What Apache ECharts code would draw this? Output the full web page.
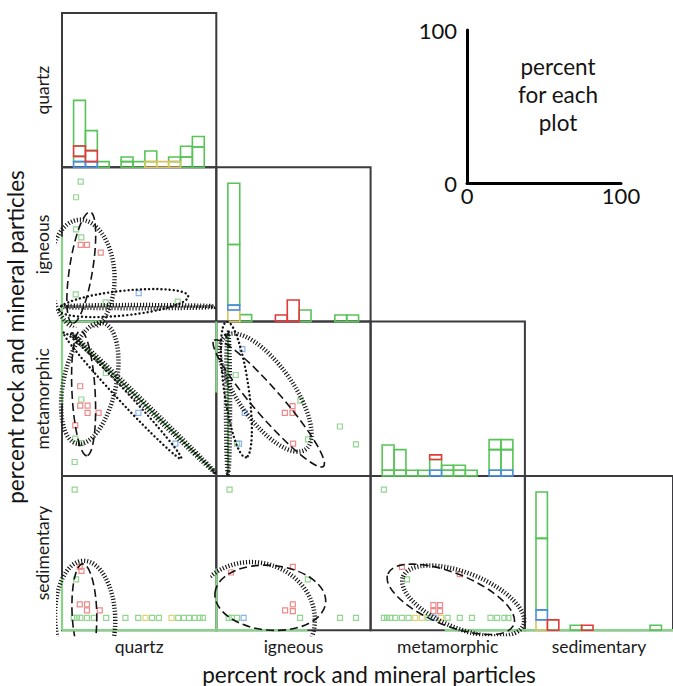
<!DOCTYPE html>
<html><head><meta charset="utf-8">
<script src="https://cdn.jsdelivr.net/npm/echarts@6/dist/echarts.min.js"></script>
<style>html,body{margin:0;padding:0;background:#fff}#c{width:673px;height:686px}</style>
</head><body><div id="c"></div>
<script>
// ---------- data ----------
const variables = ['quartz', 'igneous', 'metamorphic', 'sedimentary'];
const axisTitle = 'percent rock and mineral particles';
const insetTicks = [0, 100];
const insetText = 'percent\nfor each\nplot';

// histogram bins (percent) and stacked bin heights (percent of panel height)
const binEdges = [7.5, 15.2, 22.9, 30.6, 38.3, 46.0, 53.7, 61.4, 69.1, 76.8, 84.5, 92.2];
const quartzHistYellow = [0, 0, 0, 0, 0, 0, 3.7, 3.7, 3.7, 0, 0];
const quartzHistBlue   = [3.7, 3.7, 0, 0, 0, 0, 0, 0, 0, 0, 0];
const quartzHistGreenA = [3.4, 0, 3.7, 0, 3.7, 3.7, 6.9, 0, 3.0, 6.7, 13.2];
const quartzHistRed    = [6.7, 7.1, 0, 0, 0, 0, 0, 0, 0, 0, 0];
const quartzHistGreenB = [29.6, 13.0, 0, 0, 3.0, 0, 0, 0, 0, 6.9, 6.8];

const igneousHistYellow = [7.5, 0, 0, 0, 0, 0, 0, 0, 0, 0, 0];
const igneousHistBlue   = [3.2, 0, 0, 0, 0, 0, 0, 0, 0, 0, 0];
const igneousHistGreenA = [39.3, 4.5, 0, 0, 0, 0, 7.5, 0, 0, 4.3, 4.3];
const igneousHistRed    = [0, 0, 0, 0, 4.3, 14.0, 0, 0, 0, 0, 0];
const igneousHistGreenB = [39.7, 0, 0, 0, 0, 0, 0, 0, 0, 0, 0];

const metamorphicHistYellow = [0, 0, 0, 0, 0, 0, 0, 0, 0, 0, 0];
const metamorphicHistBlue   = [0, 0, 0, 0, 3.7, 0, 0, 0, 0, 3.7, 3.7];
const metamorphicHistGreenA = [3.7, 3.7, 3.7, 3.7, 6.9, 3.7, 3.7, 3.7, 0, 13.3, 13.3];
const metamorphicHistRed    = [0, 0, 0, 0, 3.0, 0, 0, 0, 0, 0, 0];
const metamorphicHistGreenB = [16.3, 13.3, 0, 0, 0, 3.2, 3.2, 0, 0, 6.5, 6.5];

const sedimentaryHistYellow = [6.7, 0, 0, 0, 0, 0, 0, 0, 0, 0, 0];
const sedimentaryHistBlue   = [6.5, 0, 0, 0, 0, 0, 0, 0, 0, 0, 0];
const sedimentaryHistGreenA = [46.3, 0, 0, 3.2, 0, 0, 0, 0, 0, 0, 3.2];
const sedimentaryHistRed    = [0, 6.7, 0, 0, 3.2, 0, 0, 0, 0, 0, 0];
const sedimentaryHistGreenB = [30.1, 0, 0, 0, 0, 0, 0, 0, 0, 0, 0];

// scatter points [x (column variable), y (row variable)]
const igQzGreen = [[12.1,90.7],[9.1,80.6],[9.1,59.8],[12.5,54.6],[28.3,12.5],[8.9,17.7],[75,13]];
const igQzRed   = [[12.1,49.7],[16.2,49.7],[25.1,44.7]];
const igQzBlue  = [[49.7,18.4]];

const meQzGreen = [[12.5,49.5],[8.6,24.1],[12.5,21.3],[8.2,9],[28.4,66.7]];
const meQzRed   = [[11.8,58.1],[11.8,45.6],[16.6,45.6],[16.6,40.9],[23.7,40.9],[8.6,32.7]];
const meQzBlue  = [[49.5,40.9],[73.5,20.9]];

const meIgGreen = [[12.6,65.4],[13.4,20.9],[54.5,48.8],[59.5,23.7],[80.1,32],[90.5,20.4]];
const meIgRed   = [[49.4,45.2],[44.4,40.9],[49.4,40.9],[49.8,20.9]];
const meIgBlue  = [[16.9,82.2],[18.4,40.9],[14.7,20.9]];

const seQzGreen  = [[8.2,91.1],[9.1,33],[7.6,8],[9.7,8],[11.9,8],[16.2,8],[20.6,8],[28.6,8],[41.1,8],[49.4,8],[58.4,8],[62.8,8],[75.3,8],[79,8],[82.3,8],[86.1,8],[89.2,8],[91.3,8]];
const seQzYellow = [[54.1,8],[71,8]];
const seQzRed    = [[11.5,41.1],[12.6,38.5],[11.5,16.7],[16.2,16.7],[16.2,12.8],[24.5,12.8]];

const seIgGreen = [[8.6,91.1],[59.3,33],[8,8],[10.1,8],[13.4,8],[54.3,8],[80.2,8],[90.5,8]];
const seIgRed   = [[9.5,37.4],[49.6,41.1],[44.6,12.8],[49.6,16.7],[49.6,12.4]];
const seIgBlue  = [[17.7,8]];

const seMeGreen  = [[8.6,91.1],[23.6,33],[8.6,8],[10.7,8],[12.8,8],[16,8],[20.3,8],[24.6,8],[37.5,8],[49.9,8],[57.8,8],[65.7,8],[77.7,8],[82,8],[86.7,8],[89.3,8]];
const seMeYellow = [[28.9,8],[33.2,8],[45.6,8]];
const seMeBlue   = [[41.3,8]];
const seMeRed    = [[20.3,41.1],[57.8,36.3],[40.7,16.3],[45,16.3],[40.7,12.4],[45,12.4]];

// group ellipses: [row variable, column variable, centre x, centre y, semi-axis a, semi-axis b, angle deg]
const dashedEllipses = [
  ['igneous','quartz',12.5,35,36.5,7.5,81],
  ['metamorphic','quartz',14,53.6,40.5,7.5,93],
  ['metamorphic','igneous',34,47,54,9,-49],
  ['sedimentary','quartz',14.5,12,31,8,92],
  ['sedimentary','igneous',35,21,36,21,-5],
  ['sedimentary','metamorphic',52,20,44,17,-22]
];
const dottedEllipses = [
  ['igneous','quartz',40,12,42,8,6],
  ['metamorphic','quartz',39.2,52,55.9,3.5,-47],
  ['metamorphic','igneous',13,56,44.4,8,98]
];
const hatchedEllipses = [
  ['igneous','quartz',13,30,36,21,93],
  ['igneous','quartz',49.5,9.7,49.5,1.0,0],
  ['metamorphic','quartz',52.7,47.2,64.2,1.0,-44],
  ['metamorphic','quartz',18,60,40,17,78],
  ['metamorphic','igneous',7.6,47.2,45.7,1.3,90],
  ['metamorphic','igneous',32,54,45,18,-55],
  ['sedimentary','quartz',15,8,37,19.5,92],
  ['sedimentary','igneous',24,8,40,36,-10],
  ['sedimentary','metamorphic',60,19,42,18,-22]
];

// runs of points lying on zero / on a line: [row var, col var, x1, y1, x2, y2]
const pointRuns = [
  ['igneous','quartz',0,0,0,55],
  ['igneous','quartz',0,0,27,0],
  ['metamorphic','quartz',0,47,0,100],
  ['metamorphic','quartz',6.5,91.8,98.9,2.6],
  ['metamorphic','igneous',0,54,0,100],
  ['metamorphic','igneous',7.6,93,7.6,1.5],
  ['sedimentary','quartz',0,0,0,34],
  ['sedimentary','quartz',0,0,100,0],
  ['sedimentary','igneous',0,0,0,40],
  ['sedimentary','igneous',0,0,59,0],
  ['sedimentary','metamorphic',48,0,100,0],
  ['sedimentary','sedimentary',0,0,100,0]
];

// ---------- styles / layout ----------
const FONT = 'Lato';
const PANEL = 154.3, LEFT0 = 62, TOP0 = 13;
const pointColor = {green:'#92d692', red:'#ee8a8a', blue:'#8ab4ec', yellow:'#e0d47a'};
const histColor = {green:'#58c458', red:'#e03a3a', blue:'#4a8ee0', yellow:'#d8c462'};

const grids = [], xAxes = [], yAxes = [], series = [];
const panelIndex = {};
variables.forEach((rv, i) => {
  variables.forEach((cv, j) => {
    if (j > i) return;
    const g = grids.length;
    panelIndex[rv + '|' + cv] = g;
    grids.push({left: LEFT0 + PANEL * j, top: TOP0 + PANEL * i, width: PANEL, height: PANEL,
      show: true, borderColor: '#3b3a3e', borderWidth: 2, backgroundColor: 'transparent'});
    xAxes.push({gridIndex: g, type: 'value', min: 0, max: 100,
      axisLine: {show: false}, axisTick: {show: false}, axisLabel: {show: false}, splitLine: {show: false},
      name: i === 3 ? cv : '', nameLocation: 'middle', nameGap: 7,
      nameTextStyle: {fontFamily: FONT, fontSize: 17.5, color: '#1a1a1a'}});
    yAxes.push({gridIndex: g, type: 'value', min: 0, max: 100,
      axisLine: {show: false}, axisTick: {show: false}, axisLabel: {show: false}, splitLine: {show: false},
      name: j === 0 ? rv : '', nameLocation: 'middle', nameGap: 11,
      nameTextStyle: {fontFamily: FONT, fontSize: 17.5, color: '#1a1a1a'}});
  });
});
// inset scale key
const insetGrid = grids.length;
grids.push({left: 467, top: 30, width: 154, height: 153, show: false});
const insetAxis = (margin) => ({gridIndex: insetGrid, type: 'value', min: insetTicks[0], max: insetTicks[1],
  interval: insetTicks[1] - insetTicks[0],
  axisLine: {show: true, onZero: false, lineStyle: {color: '#000', width: 3}}, axisTick: {show: false},
  splitLine: {show: false},
  axisLabel: {show: true, margin: margin, fontFamily: FONT, fontSize: 22, color: '#111'}});
xAxes.push(insetAxis(1));
yAxes.push(insetAxis(10));

// histograms on the diagonal
const histSets = {
  quartz: [['greenA', quartzHistGreenA], ['greenB', quartzHistGreenB], ['yellow', quartzHistYellow], ['blue', quartzHistBlue], ['red', quartzHistRed]],
  igneous: [['greenA', igneousHistGreenA], ['greenB', igneousHistGreenB], ['yellow', igneousHistYellow], ['blue', igneousHistBlue], ['red', igneousHistRed]],
  metamorphic: [['greenA', metamorphicHistGreenA], ['greenB', metamorphicHistGreenB], ['yellow', metamorphicHistYellow], ['blue', metamorphicHistBlue], ['red', metamorphicHistRed]],
  sedimentary: [['greenA', sedimentaryHistGreenA], ['greenB', sedimentaryHistGreenB], ['yellow', sedimentaryHistYellow], ['blue', sedimentaryHistBlue], ['red', sedimentaryHistRed]]
};
const stackOrder = ['yellow', 'blue', 'greenA', 'red', 'greenB'];
variables.forEach(v => {
  const g = panelIndex[v + '|' + v];
  const byName = {};
  histSets[v].forEach(([n, arr]) => byName[n] = arr);
  const base = new Array(binEdges.length - 1).fill(0);
  const items = {};
  stackOrder.forEach(n => {
    items[n] = [];
    byName[n].forEach((h, k) => {
      if (h > 0) items[n].push([binEdges[k], binEdges[k + 1], base[k], base[k] + h]);
      base[k] += h;
    });
  });
  histSets[v].forEach(([n]) => {
    const col = histColor[n.startsWith('green') ? 'green' : n];
    series.push({type: 'custom', coordinateSystem: 'cartesian2d', xAxisIndex: g, yAxisIndex: g,
      silent: true, z: 3, data: items[n], encode: {x: [0, 1], y: [2, 3]},
      renderItem: (params, api) => {
        const p0 = api.coord([api.value(0), api.value(3)]);
        const p1 = api.coord([api.value(1), api.value(2)]);
        return {type: 'rect', shape: {x: p0[0], y: p0[1], width: p1[0] - p0[0], height: p1[1] - p0[1]},
          style: {fill: 'none', stroke: col, lineWidth: 1.6}};
      }});
  });
});

// runs of points on lines
pointRuns.forEach(r => {
  const g = panelIndex[r[0] + '|' + r[1]];
  series.push({type: 'custom', coordinateSystem: 'cartesian2d', xAxisIndex: g, yAxisIndex: g, silent: true, z: 2,
    data: [r.slice(2)], encode: {x: [0, 2], y: [1, 3]},
    renderItem: (params, api) => {
      const a = api.coord([api.value(0), api.value(1)]);
      const b = api.coord([api.value(2), api.value(3)]);
      return {type: 'line', shape: {x1: a[0], y1: a[1], x2: b[0], y2: b[1]},
        style: {stroke: '#86d486', lineWidth: 2.2}};
    }});
});

// scatter points
function addPoints(rv, cv, pts, col) {
  const g = panelIndex[rv + '|' + cv];
  series.push({type: 'scatter', xAxisIndex: g, yAxisIndex: g, data: pts, symbol: 'rect', symbolSize: 5,
    silent: true, z: 4, itemStyle: {color: 'rgba(255,255,255,0)', borderColor: pointColor[col], borderWidth: 1.2, opacity: 1}});
}
addPoints('igneous','quartz',igQzGreen,'green'); addPoints('igneous','quartz',igQzRed,'red'); addPoints('igneous','quartz',igQzBlue,'blue');
addPoints('metamorphic','quartz',meQzGreen,'green'); addPoints('metamorphic','quartz',meQzRed,'red'); addPoints('metamorphic','quartz',meQzBlue,'blue');
addPoints('metamorphic','igneous',meIgGreen,'green'); addPoints('metamorphic','igneous',meIgRed,'red'); addPoints('metamorphic','igneous',meIgBlue,'blue');
addPoints('sedimentary','quartz',seQzGreen,'green'); addPoints('sedimentary','quartz',seQzYellow,'yellow'); addPoints('sedimentary','quartz',seQzRed,'red');
addPoints('sedimentary','igneous',seIgGreen,'green'); addPoints('sedimentary','igneous',seIgRed,'red'); addPoints('sedimentary','igneous',seIgBlue,'blue');
addPoints('sedimentary','metamorphic',seMeGreen,'green'); addPoints('sedimentary','metamorphic',seMeYellow,'yellow');
addPoints('sedimentary','metamorphic',seMeBlue,'blue'); addPoints('sedimentary','metamorphic',seMeRed,'red');

// ellipses
const ellipseStyles = {
  dashed: {lineWidth: 1.6, lineDash: [8, 4], lineCap: 'butt'},
  dotted: {lineWidth: 2.4, lineDash: [0.1, 4], lineCap: 'round'},
  hatched: {lineWidth: 4.5, lineDash: [1.1, 1.9], lineCap: 'butt'}
};
function addEllipses(list, styleName) {
  const st = ellipseStyles[styleName];
  list.forEach(e => {
    const g = panelIndex[e[0] + '|' + e[1]];
    series.push({type: 'custom', coordinateSystem: 'cartesian2d', xAxisIndex: g, yAxisIndex: g, silent: true, z: 5,
      clip: false, data: [e.slice(2)], encode: {x: 0, y: 1},
      renderItem: (params, api) => {
        const c = api.coord([api.value(0), api.value(1)]);
        const s = api.size([api.value(2), api.value(3)]);
        const cs = params.coordSys;
        return {type: 'group',
          clipPath: {type: 'rect', shape: {x: cs.x - 6, y: cs.y - 6, width: cs.width + 12, height: cs.height + 12}},
          children: [{type: 'ellipse', x: c[0], y: c[1], rotation: api.value(4) * Math.PI / 180,
            shape: {cx: 0, cy: 0, rx: s[0], ry: s[1]},
            style: {fill: 'none', stroke: '#141414', lineWidth: st.lineWidth, lineDash: st.lineDash, lineCap: st.lineCap}}]};
      }});
  });
}
addEllipses(dashedEllipses, 'dashed');
addEllipses(dottedEllipses, 'dotted');
addEllipses(hatchedEllipses, 'hatched');

const chart = echarts.init(document.getElementById('c'), null, {renderer: 'svg'});
chart.setOption({
  animation: false,
  backgroundColor: '#fff',
  grid: grids, xAxis: xAxes, yAxis: yAxes, series: series,
  graphic: [
    {type: 'text', x: 15, y: 337, rotation: Math.PI / 2, silent: true,
      style: {text: axisTitle, fontFamily: FONT, fontSize: 22.5, fill: '#141414', align: 'center', verticalAlign: 'middle', textAlign: 'center', textVerticalAlign: 'middle'}},
    {type: 'text', x: 369, y: 674, silent: true,
      style: {text: axisTitle, fontFamily: FONT, fontSize: 22.5, fill: '#141414', align: 'center', verticalAlign: 'middle', textAlign: 'center', textVerticalAlign: 'middle'}},
    {type: 'text', x: 558, y: 94, silent: true,
      style: {text: insetText, fontFamily: FONT, fontSize: 22.5, lineHeight: 28, fill: '#141414', align: 'center', verticalAlign: 'middle', textAlign: 'center', textVerticalAlign: 'middle'}}
  ]
});
</script></body></html>
